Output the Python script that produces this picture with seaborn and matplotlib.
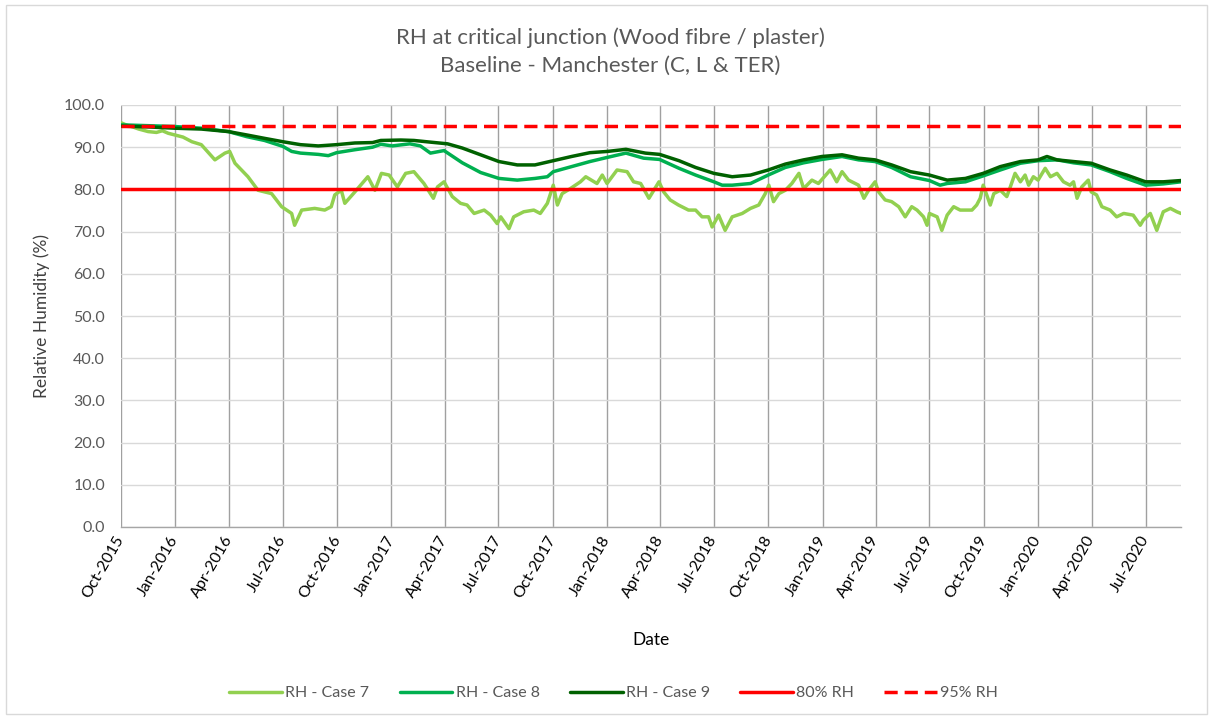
import matplotlib
matplotlib.use("Agg")
import matplotlib.pyplot as plt
import matplotlib.dates as mdates
from matplotlib.lines import Line2D
from matplotlib.patches import Rectangle
import pandas as pd
import seaborn as sns

# Simulation start; series are indexed by day of simulation
START = pd.Timestamp("2015-10-01")
END_DAY = 1795

# RH - Case 7 (day of simulation, relative humidity %)
days7 = [0, 10, 20, 30, 46, 60, 70, 80, 91, 105, 120, 136, 159, 176, 184, 193, 215, 232,
         255, 272, 289, 294, 306, 328, 345, 356, 362, 373, 379, 396, 418, 430, 441, 454,
         468, 482, 496, 513, 529, 536, 547, 561, 575, 586, 598, 615, 626, 637, 643, 657,
         665, 682, 699, 710, 722, 732, 739, 747, 761, 778, 787, 806, 815, 823, 840, 857,
         868, 880, 894, 911, 919, 930, 944, 961, 973, 984, 995, 1001, 1012, 1023, 1035,
         1052, 1066, 1080, 1091, 1097, 1105, 1114, 1125, 1136, 1148, 1156, 1170, 1181,
         1201, 1212, 1221, 1232, 1249, 1258, 1266, 1277, 1283, 1294, 1305, 1317, 1328,
         1339, 1348, 1359, 1365, 1369, 1382, 1390, 1399, 1410, 1421, 1441, 1449, 1455,
         1460, 1466, 1472, 1478, 1489, 1500, 1506, 1514, 1523, 1531, 1537, 1545, 1553,
         1565, 1574, 1585, 1596, 1607, 1613, 1619, 1627, 1638, 1643, 1652, 1661, 1675,
         1686, 1698, 1714, 1726, 1731, 1743, 1754, 1765, 1777, 1788, 1795]
rh7 = [95.8, 95.2, 94.8, 94.3, 93.7, 93.5, 93.9, 93.3, 92.9, 92.4, 91.3, 90.6, 87.0, 88.6,
       89.0, 86.2, 83.0, 79.8, 79.0, 75.9, 74.3, 71.5, 75.1, 75.5, 75.1, 75.9, 78.7, 79.8,
       76.7, 79.4, 83.0, 79.8, 83.8, 83.4, 80.6, 83.8, 84.2, 81.4, 77.9, 80.6, 81.8, 78.3,
       76.7, 76.3, 74.3, 75.1, 73.9, 71.9, 73.5, 70.7, 73.5, 74.7, 75.1, 74.3, 76.7, 81.0,
       76.3, 79.0, 80.2, 81.8, 83.0, 81.4, 83.4, 81.4, 84.6, 84.2, 81.8, 81.4, 77.9, 81.8,
       79.4, 77.5, 76.3, 75.1, 75.1, 73.5, 73.5, 71.1, 73.9, 70.3, 73.5, 74.3, 75.5, 76.3,
       79.0, 81.0, 77.1, 79.0, 79.8, 81.4, 83.8, 80.2, 82.2, 81.4, 84.6, 81.8, 84.2, 82.2,
       81.0, 77.9, 79.8, 81.8, 79.4, 77.5, 77.1, 75.9, 73.5, 75.9, 75.1, 73.5, 71.5, 74.3,
       73.5, 70.3, 73.9, 75.9, 75.1, 75.1, 76.3, 77.9, 81.0, 78.7, 76.3, 79.0, 79.8, 78.3,
       80.6, 83.8, 81.8, 83.4, 81.0, 83.0, 82.2, 85.0, 83.0, 83.8, 81.8, 81.0, 81.8, 77.9,
       80.6, 82.2, 79.4, 78.7, 75.9, 75.1, 73.5, 74.3, 73.9, 71.5, 72.7, 74.3, 70.3, 74.7,
       75.5, 74.7, 74.3]

# RH - Case 8
days8 = [0, 46, 91, 136, 182, 213, 243, 274, 289, 304, 334, 351, 365, 396, 426, 440, 459,
         489, 507, 524, 547, 578, 609, 640, 671, 701, 722, 732, 763, 794, 824, 855, 885,
         912, 945, 973, 1004, 1018, 1035, 1066, 1096, 1125, 1156, 1187, 1221, 1249, 1277,
         1305, 1337, 1369, 1387, 1399, 1430, 1460, 1489, 1523, 1553, 1585, 1613, 1643,
         1675, 1703, 1735, 1765, 1795]
rh8 = [95.3, 95.1, 94.9, 94.5, 93.7, 92.5, 91.6, 90.2, 89.0, 88.6, 88.3, 88.0, 88.7, 89.4,
       90.0, 90.7, 90.3, 90.8, 90.3, 88.6, 89.2, 86.3, 84.0, 82.6, 82.2, 82.6, 83.0, 84.2,
       85.4, 86.6, 87.6, 88.6, 87.4, 87.1, 85.0, 83.4, 81.8, 81.0, 81.0, 81.4, 83.4, 85.2,
       86.3, 87.1, 87.8, 87.0, 86.6, 85.2, 83.0, 82.1, 81.0, 81.4, 81.8, 83.2, 84.6, 86.2,
       86.8, 87.0, 86.3, 85.8, 84.2, 82.6, 81.0, 81.3, 81.8]

# RH - Case 9
days9 = [0, 46, 91, 136, 182, 213, 243, 274, 304, 334, 365, 396, 426, 440, 474, 496, 524,
         553, 578, 609, 640, 671, 701, 732, 763, 794, 824, 855, 888, 912, 945, 973, 1004,
         1035, 1066, 1096, 1125, 1156, 1187, 1221, 1249, 1277, 1305, 1337, 1369, 1399,
         1430, 1460, 1489, 1523, 1553, 1568, 1585, 1613, 1643, 1675, 1703, 1735, 1765, 1795]
rh9 = [95.0, 94.8, 94.5, 94.3, 93.7, 92.9, 92.1, 91.3, 90.6, 90.3, 90.6, 91.0, 91.1, 91.6,
       91.7, 91.6, 91.2, 90.8, 89.8, 88.2, 86.6, 85.8, 85.8, 86.8, 87.8, 88.7, 89.0, 89.5,
       88.6, 88.3, 86.8, 85.2, 83.8, 83.0, 83.4, 84.6, 86.0, 87.0, 87.8, 88.2, 87.4, 87.0,
       85.8, 84.2, 83.4, 82.2, 82.6, 83.8, 85.4, 86.6, 87.0, 87.8, 87.0, 86.6, 86.2, 84.6,
       83.4, 81.8, 81.8, 82.1]

threshold_low = 80.0
threshold_high = 95.0

series_names = ["RH - Case 7", "RH - Case 8", "RH - Case 9"]
series_colors = ["#92D050", "#00B050", "#006100"]
series_days = [days7, days8, days9]
series_values = [rh7, rh8, rh9]

title_lines = ["RH at critical junction (Wood fibre / plaster)",
               "Baseline - Manchester (C, L & TER)"]

frames = []
for name, d, v in zip(series_names, series_days, series_values):
    frames.append(pd.DataFrame({"date": START + pd.to_timedelta(d, unit="D"),
                                "rh": v, "series": name}))
df = pd.concat(frames, ignore_index=True)

sns.set_style("white")
plt.rcParams["font.family"] = ["Lato", "DejaVu Sans"]

W, H = 1213, 719
fig = plt.figure(figsize=(W / 100, H / 100), dpi=100)
fig.subplots_adjust(left=121 / W, right=1181 / W, top=1 - 105 / H, bottom=1 - 527 / H)
ax = fig.add_subplot(111)

LW = 2.5
sns.lineplot(data=df, x="date", y="rh", hue="series", palette=series_colors,
             hue_order=series_names, estimator=None, sort=False, linewidth=LW,
             legend=False, ax=ax)
ax.axhline(threshold_low, color="#FF0000", linewidth=LW)
ax.axhline(threshold_high, color="#FF0000", linewidth=LW, dashes=(3.8, 2.0))

ax.set_xlim(START, START + pd.Timedelta(days=END_DAY))
ax.set_ylim(0, 100)
ax.set_yticks(range(0, 101, 10))
ax.set_yticklabels([f"{v:.1f}" for v in range(0, 101, 10)])

quarters = pd.date_range("2015-10-01", "2020-07-01", freq="3MS")
ax.set_xticks(quarters)
ax.xaxis.set_major_formatter(mdates.DateFormatter("%b-%Y"))

ax.grid(axis="y", color="#D9D9D9", linewidth=1.0)
ax.grid(axis="x", color="#A0A0A0", linewidth=1.0)
ax.set_axisbelow(True)
for side in ["top", "right", "left"]:
    ax.spines[side].set_visible(False)
ax.spines["bottom"].set_color("#A6A6A6")
ax.spines["bottom"].set_linewidth(1.0)

ax.tick_params(axis="y", length=0, labelsize=11.5, labelcolor="#595959", pad=11.5)
ax.tick_params(axis="x", length=5, color="#A6A6A6", labelsize=11.5, labelcolor="#000000",
               pad=2)
for lab in ax.get_xticklabels():
    lab.set_rotation(60)
    lab.set_ha("right")
    lab.set_rotation_mode("anchor")
    lab.set_va("center")

ax.set_xlabel("Date", fontsize=12.5, color="#000000", labelpad=23)
ax.set_ylabel("Relative Humidity (%)", fontsize=12.5, color="#404040", labelpad=10)

fig.text(0.503, 1 - 38 / H, title_lines[0], ha="center", va="center", fontsize=16,
         color="#595959")
fig.text(0.503, 1 - 66 / H, title_lines[1], ha="center", va="center", fontsize=16,
         color="#595959")

handles = [Line2D([], [], color=c, linewidth=LW) for c in series_colors]
handles.append(Line2D([], [], color="#FF0000", linewidth=LW))
handles.append(Line2D([], [], color="#FF0000", linewidth=LW, dashes=(3.8, 2.0)))
labels = series_names + ["80% RH", "95% RH"]
leg = fig.legend(handles, labels, loc="center", bbox_to_anchor=(0.506, 1 - 693 / H),
                 ncol=5, frameon=False, fontsize=11.5, handlelength=3.3,
                 handletextpad=0.2, columnspacing=1.9)
for t in leg.get_texts():
    t.set_color("#595959")

fig.add_artist(Rectangle((6 / W, 5 / H), 1 - 12 / W, 1 - 10 / H, transform=fig.transFigure,
                         fill=False, edgecolor="#D9D9D9", linewidth=1.0))

fig.savefig("out.png", dpi=100, facecolor="white")
